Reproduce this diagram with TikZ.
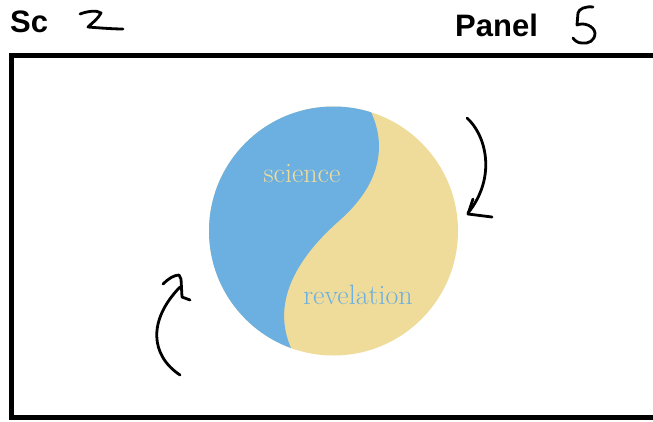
\documentclass[tikz,border=0pt]{standalone}
\usepackage{fontspec}
\usepackage{tikz}
\newfontfamily\panelfont{Liberation Sans}
\definecolor{skyblue}{HTML}{6CB0E1}
\definecolor{sand}{HTML}{EFDC9B}

\begin{document}
\begin{tikzpicture}[x=1pt,y=-1pt,
                pen/.style={line width=2.8pt,line cap=round,line join=round},
                head/.style={font=\panelfont\bfseries\fontsize{31}{32}\selectfont,inner sep=0pt,anchor=base west},
                word/.style={font=\fontsize{28}{29}\selectfont,inner sep=0pt,anchor=base}]

            \useasboundingbox (0,0) rectangle (653,421);

            \node[head] (sc) at (10,32) {Sc};
            \node[head] (panel) at (455,36) {Panel};

            % hand written numbers
            \draw[pen] (80,14) .. controls (88,11) and (97,10) .. (101,13)
                .. controls (98,19) and (92,23) .. (88,27) .. controls (100,28) and (114,29) .. (123,29);
            \draw[pen] (593,7) .. controls (585,6) and (579,9) .. (578,13) -- (577,25)
                .. controls (584,22) and (594,26) .. (595,33) .. controls (595,41) and (588,44) .. (582,43)
                .. controls (578,43) and (575,41) .. (573,38);

            % frame
            \draw[line width=5pt] (653,55) -- (11,55) -- (11,417) -- (653,417);

            % circle
            \fill[sand] (333.5,231) circle (124.5);
            \begin{scope}
                \clip (333.5,231) circle (124.5);
                \fill[skyblue] (370,95) -- (370,110) .. controls (385,140) and (385,180) .. (340,220)
                    .. controls (300,255) and (270,300) .. (291,348) -- (285,370) -- (190,370) -- (190,95) -- cycle;
            \end{scope}
            \node[word, text=sand] (science) at (302,182) {science};
            \node[word, text=skyblue] (revelation) at (358,304) {revelation};

            % arrows
            \draw[pen] (467,118) .. controls (486,135) and (497,177) .. (468,213);
            \draw[pen] (473,199) -- (468,214) -- (492,217);
            \draw[pen] (180,375) .. controls (150,355) and (148,320) .. (180,287);
            \draw[pen] (163,284) .. controls (168,279) and (174,275) .. (179,275) -- (181,279) -- (182,297) -- (190,300);

        \end{tikzpicture}
\end{document}
